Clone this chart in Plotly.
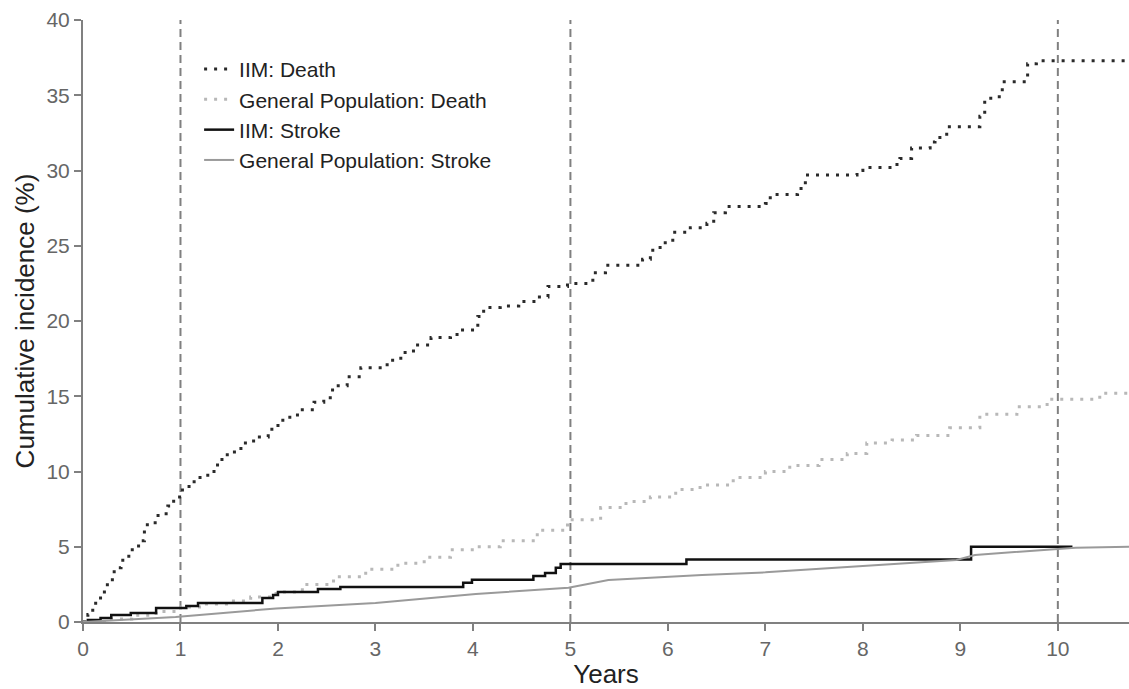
import plotly.graph_objects as go

# ---- data ----
iim_death_t = [0, 0.05, 0.10, 0.13, 0.18, 0.25, 0.32, 0.39, 0.47, 0.57, 0.63, 0.66, 0.77, 0.87,
               0.93, 1.02, 1.14, 1.28, 1.38, 1.48, 1.62, 1.75, 1.90, 2.00, 2.10, 2.20, 2.37, 2.47,
               2.56, 2.71, 2.85, 3.12, 3.26, 3.39, 3.57, 3.77, 3.87, 4.05, 4.11, 4.28, 4.47, 4.66,
               4.77, 4.97, 5.23, 5.36, 5.74, 5.82, 5.92, 6.05, 6.23, 6.40, 6.47, 6.59, 7.00, 7.05,
               7.33, 7.41, 7.94, 8.00, 8.33, 8.38, 8.50, 8.69, 8.74, 8.86, 9.20, 9.25, 9.37, 9.43,
               9.69, 9.78, 10.80]
iim_death_v = [0, 0.5, 1.0, 1.4, 2.0, 2.8, 3.6, 4.1, 4.8, 5.4, 6.1, 6.6, 7.2, 7.7,
               8.3, 9.0, 9.6, 10.0, 10.8, 11.3, 11.9, 12.3, 12.8, 13.4, 13.6, 14.1, 14.6, 14.9,
               15.7, 16.3, 16.9, 17.4, 17.9, 18.4, 18.9, 19.1, 19.4, 20.3, 20.9, 21.0, 21.3, 21.6,
               22.3, 22.5, 23.2, 23.7, 24.1, 24.7, 25.2, 25.9, 26.2, 26.5, 27.2, 27.6, 27.8, 28.4,
               28.8, 29.7, 30.0, 30.2, 30.4, 30.8, 31.5, 31.9, 32.2, 32.9, 33.6, 34.8, 34.9, 35.9,
               37.1, 37.3, 37.3]

gp_death_t = [0, 0.25, 0.5, 0.75, 1.0, 1.25, 1.5, 1.72, 1.98, 2.25, 2.57, 2.9, 3.23, 3.5, 3.77,
              4.03, 4.28, 4.66, 4.97, 5.31, 5.57, 5.82, 6.08, 6.33, 6.67, 7.0, 7.25, 7.55, 7.84,
              8.04, 8.3, 8.55, 8.89, 9.2, 9.58, 9.89, 10.43, 10.8]
gp_death_v = [0, 0.2, 0.45, 0.7, 1.0, 1.2, 1.4, 1.66, 2.0, 2.5, 3.0, 3.5, 3.9, 4.3, 4.8,
              5.0, 5.4, 6.1, 6.8, 7.6, 8.0, 8.3, 8.8, 9.1, 9.6, 10.0, 10.4, 10.8, 11.2,
              11.9, 12.1, 12.4, 12.9, 13.8, 14.3, 14.8, 15.2, 15.2]

iim_stroke_t = [0, 0.05, 0.18, 0.29, 0.49, 0.75, 1.06, 1.18, 1.84, 1.95, 2.0, 2.41, 2.64, 3.9,
                3.99, 4.62, 4.74, 4.85, 4.9, 6.19, 9.11, 10.15]
iim_stroke_v = [0, 0.13, 0.27, 0.47, 0.6, 0.93, 1.06, 1.26, 1.6, 1.8, 2.0, 2.2, 2.33, 2.6,
                2.8, 3.06, 3.26, 3.6, 3.85, 4.16, 5.0, 5.0]

gp_stroke_t = [0, 0.95, 1.98, 3.0, 3.34, 4.03, 4.98, 5.39, 6.35, 7.0, 7.88, 8.96, 9.15, 9.61,
               10.18, 10.8]
gp_stroke_v = [0, 0.33, 0.9, 1.26, 1.46, 1.86, 2.28, 2.79, 3.12, 3.3, 3.67, 4.12, 4.45, 4.67,
               4.94, 5.0]

landmark_years = [1, 5, 10]
x_ticks = list(range(0, 11))
y_ticks = list(range(0, 41, 5))

FONT = "Arial, Liberation Sans, sans-serif"

fig = go.Figure()

fig.add_trace(go.Scatter(x=iim_death_t, y=iim_death_v, mode="lines", name="IIM: Death",
                         line=dict(color="#2a2a2a", width=3, dash="3px,7px", shape="hv")))
fig.add_trace(go.Scatter(x=gp_death_t, y=gp_death_v, mode="lines", name="General Population: Death",
                         line=dict(color="#b8b8b8", width=3, dash="3px,7px", shape="hv")))
fig.add_trace(go.Scatter(x=iim_stroke_t, y=iim_stroke_v, mode="lines", name="IIM: Stroke",
                         line=dict(color="#111111", width=2.5, shape="hv")))
fig.add_trace(go.Scatter(x=gp_stroke_t, y=gp_stroke_v, mode="lines", name="General Population: Stroke",
                         line=dict(color="#9a9a9a", width=2, shape="linear")))

for yr in landmark_years:
    fig.add_vline(x=yr, line=dict(color="#808080", width=2, dash="8px,5px"), layer="below")

fig.update_layout(
    width=1129, height=689,
    margin=dict(l=83, r=0, t=20, b=67),
    plot_bgcolor="white", paper_bgcolor="white",
    font=dict(family=FONT, size=21, color="#666"),
    showlegend=True,
    legend=dict(x=0.111, y=0.952, xanchor="left", yanchor="top",
                bgcolor="rgba(0,0,0,0)", font=dict(size=21, color="#222"),
                tracegroupgap=0),
    xaxis=dict(range=[0, 10.73], tickvals=x_ticks, showgrid=False, zeroline=False,
               showline=True, linecolor="#808080", linewidth=2,
               ticks="outside", ticklen=7, tickwidth=2, tickcolor="#808080",
               tickfont=dict(size=21, color="#666"),
               title=dict(text="Years", font=dict(size=26, color="#222"), standoff=11)),
    yaxis=dict(range=[0, 40], tickvals=y_ticks, showgrid=False, zeroline=False,
               showline=True, linecolor="#808080", linewidth=2,
               ticks="outside", ticklen=7, tickwidth=2, tickcolor="#808080",
               tickfont=dict(size=21, color="#666"),
               title=dict(text="Cumulative incidence (%)", font=dict(size=26, color="#222"), standoff=4)),
)

fig.write_html("out.html", config={"displayModeBar": False},
               post_script="document.body.style.margin='0';")
